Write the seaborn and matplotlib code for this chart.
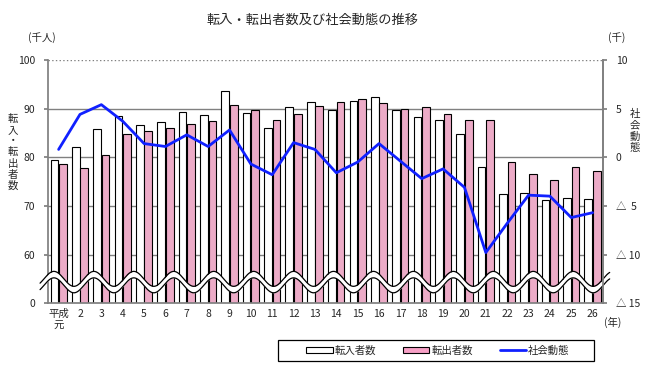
import numpy as np
import pandas as pd
import matplotlib
matplotlib.use('Agg')
import matplotlib.pyplot as plt
import seaborn as sns
from matplotlib.patches import Patch, Rectangle
from matplotlib.lines import Line2D

# データ（千人）
years = ['平成\n元'] + [str(i) for i in range(2, 27)]
tennyu = [79.4, 82.1, 85.8, 88.4, 86.6, 87.2, 89.2, 88.6, 93.7, 89.1,
          85.9, 90.4, 91.4, 89.7, 91.5, 92.4, 89.7, 88.2, 87.6, 84.7,
          77.9, 72.5, 72.7, 71.3, 71.6, 71.4]
tenshutsu = [78.6, 77.7, 80.4, 84.7, 85.3, 86.1, 86.8, 87.5, 90.8, 89.7,
             87.7, 88.8, 90.6, 91.4, 92.0, 91.1, 90.0, 90.4, 88.8, 87.7,
             87.7, 79.0, 76.6, 75.3, 77.9, 77.1]
shakai = [0.8, 4.4, 5.4, 3.7, 1.4, 1.1, 2.3, 1.1, 2.8, -0.7,
          -1.8, 1.5, 0.8, -1.6, -0.5, 1.4, -0.4, -2.2, -1.2, -3.1,
          -9.8, -6.8, -3.9, -4.0, -6.2, -5.7]

left_ticks = [50, 60, 70, 80, 90, 100]
left_labels = ['0', '60', '70', '80', '90', '100']
right_ticks = [-15, -10, -5, 0, 5, 10]
right_labels = ['△ 15', '△ 10', '△  5', '0', '5', '10']

pink = '#f7a0c6'
blue = '#1020ff'
grey = '#808080'

df = pd.DataFrame({'年': years * 2,
                   '人数': tennyu + tenshutsu,
                   '区分': ['転入者数'] * 26 + ['転出者数'] * 26})

sns.set_theme(style='white')
plt.rcParams['font.family'] = ['Noto Sans CJK JP', 'DejaVu Sans']
fs = 7.5

fig = plt.figure(figsize=(6.48, 3.72), dpi=100)
ax = fig.add_axes([0.074, 0.185, 0.857, 0.654])

sns.barplot(data=df, x='年', y='人数', hue='区分',
            palette={'転入者数': 'white', '転出者数': pink},
            width=0.8, gap=0.1, edgecolor='black', linewidth=0.8,
            errorbar=None, legend=False, ax=ax)

ax.set_ylim(50, 100)
ax.set_xlim(-0.5, 25.5)
for v in [60, 70, 80, 90]:
    ax.axhline(v, color=grey, lw=1, zorder=0.5)
ax.axhline(100, color=grey, lw=1, ls=':', zorder=0.5)
ax.set_yticks(left_ticks)
ax.set_yticklabels(left_labels, fontsize=fs)
ax.set_xlabel('')
ax.set_ylabel('')
ax.tick_params(axis='x', length=0, labelsize=fs, pad=4)
ax.tick_params(axis='y', length=3, color=grey, direction='out', pad=6)
ax.set_xticks(np.arange(-0.5, 26, 1), minor=True)
ax.tick_params(axis='x', which='minor', length=4, color=grey, direction='out')
for s in ['left', 'bottom', 'right']:
    ax.spines[s].set_color(grey)
ax.spines['top'].set_visible(False)

# 波線（軸の省略）
xs = np.linspace(-0.87, 25.8, 800)
y_up = 55.0 + 1.54 * np.cos(2 * np.pi * (xs - 1.65) / 1.87)
y_lo = y_up - 1.33
ax.fill_between(xs, y_lo, y_up, color='white', zorder=5, clip_on=False, lw=0)
ax.plot(xs, y_up, color='black', lw=0.9, zorder=6, clip_on=False)
ax.plot(xs, y_lo, color='black', lw=0.9, zorder=6, clip_on=False)

# 社会動態（千人）
ax2 = ax.twinx()
sns.lineplot(x=np.arange(26), y=shakai, color=blue, lw=2, ax=ax2)
ax2.set_ylim(-15, 10)
ax2.set_yticks(right_ticks)
ax2.set_yticklabels(right_labels, fontsize=fs)
ax2.tick_params(axis='y', length=3, color=grey, direction='out', pad=6)
for s in ['left', 'bottom', 'top']:
    ax2.spines[s].set_visible(False)
ax2.spines['right'].set_color(grey)
ax2.set_ylabel('')

# テキスト
fig.text(0.483, 0.946, '転入・転出者数及び社会動態の推移', ha='center', va='center', fontsize=9.5)
fig.text(0.064, 0.900, '(千人)', ha='center', va='center', fontsize=fs)
fig.text(0.952, 0.900, '(千)', ha='center', va='center', fontsize=fs)
fig.text(0.020, 0.590, '転\n入\n・\n転\n出\n者\n数', ha='center', va='center',
         fontsize=fs, linespacing=1.15)
fig.text(0.980, 0.648, '社\n会\n動\n態', ha='center', va='center',
         fontsize=fs, linespacing=1.15)
fig.text(0.946, 0.132, '(年)', ha='center', va='center', fontsize=fs)

# 凡例
fig.patches.append(Rectangle((278 / 648, 11 / 372), 316 / 648, 21 / 372,
                             transform=fig.transFigure, fill=False,
                             edgecolor='black', lw=0.9))
handles = [Patch(facecolor='white', edgecolor='black', lw=0.8),
           Patch(facecolor=pink, edgecolor='black', lw=0.8),
           Line2D([0], [0], color=blue, lw=2)]
fig.legend(handles, ['転入者数', '転出者数', '社会動態'], ncol=3,
           loc='center', bbox_to_anchor=(438 / 648, 0.058), frameon=False,
           fontsize=fs, handlelength=2.5, handleheight=0.5,
           handletextpad=0.2, columnspacing=2.6)

fig.savefig('out.png', dpi=100)
